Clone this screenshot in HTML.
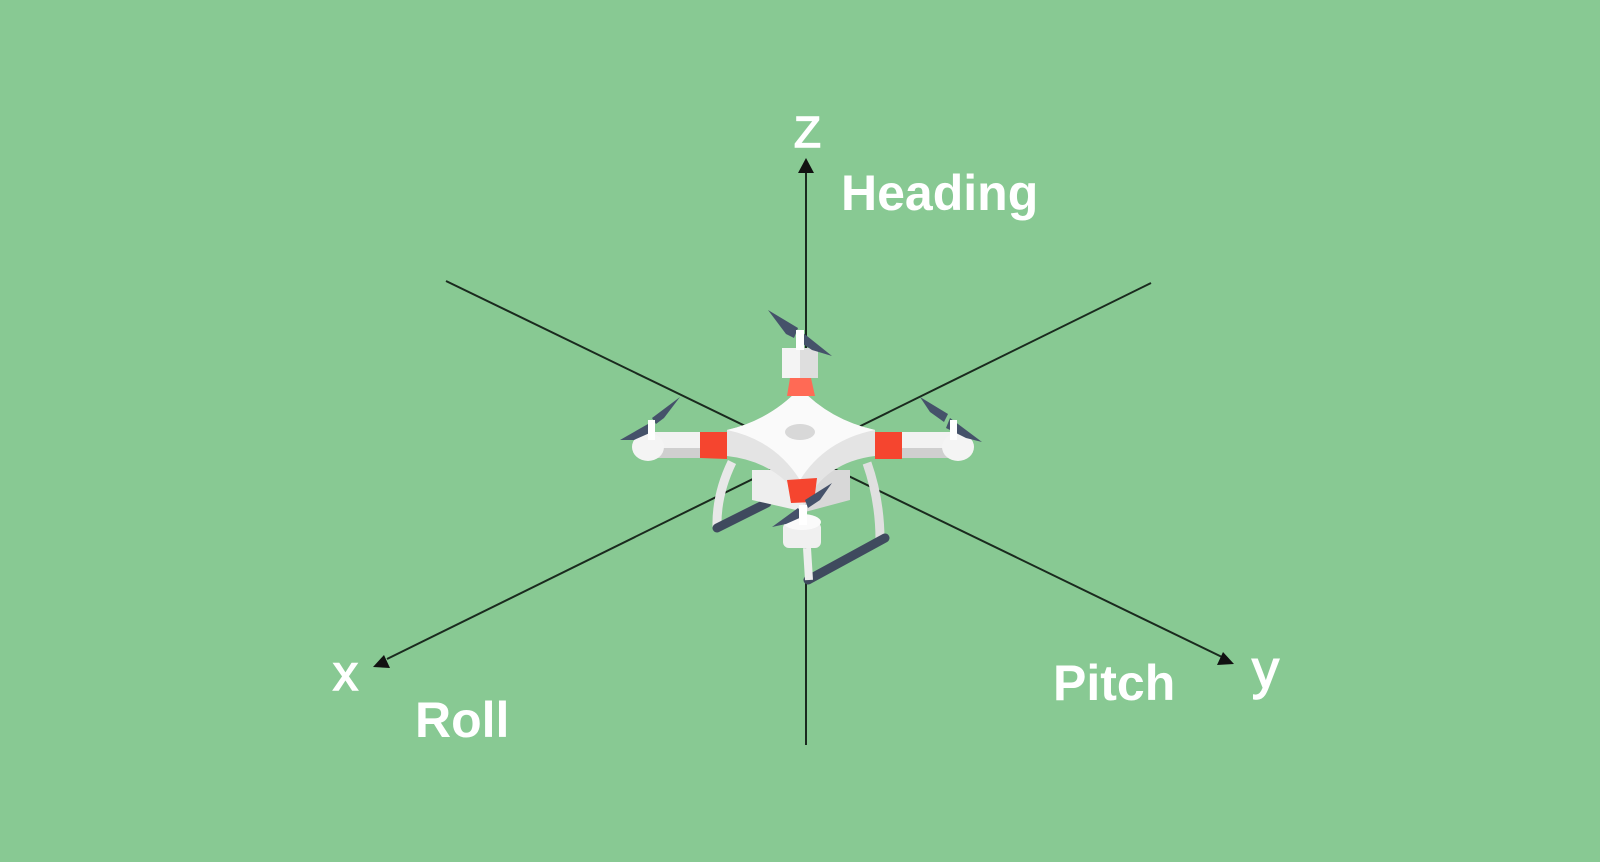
<!DOCTYPE html>
<html><head><meta charset="utf-8"><style>
html,body{margin:0;padding:0;background:#88c993;}
svg{display:block}
</style></head><body>
<svg width="1600" height="862" viewBox="0 0 1600 862" xmlns="http://www.w3.org/2000/svg">
<rect width="1600" height="862" fill="#88c993"/>
<g stroke="#1a2a1e" stroke-width="2" fill="none">
<line x1="806" y1="170" x2="806" y2="745"/>
<line x1="446" y1="281" x2="1222" y2="657"/>
<line x1="1151" y1="283" x2="387" y2="659"/>
</g>
<polygon points="806,158 798,173 814,173" fill="#111"/>
<polygon points="373,667 390,668 384,655" fill="#111"/>
<polygon points="1234,664 1217,665 1223,652" fill="#111"/>
<g font-family="Liberation Sans, sans-serif" fill="#fff">
<text x="794" y="147" font-size="44" stroke="#fff" stroke-width="1.5">Z</text>
<text x="841" y="210" font-size="50" font-weight="bold">Heading</text>
<text x="333" y="690" font-size="50" stroke="#fff" stroke-width="1.5">x</text>
<text x="415" y="737" font-size="50" font-weight="bold">Roll</text>
<text x="1053" y="700" font-size="50" font-weight="bold">Pitch</text>
<text x="1252" y="688" font-size="54" stroke="#fff" stroke-width="1.5">y</text>
</g>
<g>
<path d="M732,462 Q716,495 717,528" stroke="#e8e8e8" stroke-width="9" fill="none"/>
<path d="M867,463 Q880,500 880,540" stroke="#e0e0e0" stroke-width="9" fill="none"/>
<line x1="717" y1="528" x2="767" y2="503" stroke="#3f4a5e" stroke-width="9" stroke-linecap="round"/>
<line x1="808" y1="580" x2="885" y2="538" stroke="#3f4a5e" stroke-width="9" stroke-linecap="round"/>
<line x1="807" y1="548" x2="809" y2="580" stroke="#eee" stroke-width="8"/>
<polygon points="752,470 805,470 805,512 752,500" fill="#eeeeee"/>
<polygon points="805,470 850,470 850,500 805,512" fill="#d8d8d8"/>
<rect x="640" y="432" width="70" height="26" fill="#f2f2f2"/>
<rect x="640" y="448" width="70" height="10" fill="#cfcfcf"/>
<ellipse cx="648" cy="447" rx="16" ry="14" fill="#f4f4f4"/>
<rect x="890" y="432" width="72" height="26" fill="#f2f2f2"/>
<rect x="890" y="448" width="72" height="10" fill="#cfcfcf"/>
<ellipse cx="958" cy="447" rx="16" ry="14" fill="#f4f4f4"/>
<rect x="782" y="348" width="36" height="30" fill="#f4f4f4"/>
<rect x="800" y="348" width="18" height="30" fill="#dedede"/>
<path d="M727,430 Q770,420 800,388 Q830,420 875,430 L875,456 Q825,462 804,505 Q780,462 727,456 Z" fill="#e4e4e4"/>
<path d="M727,430 Q770,420 800,388 Q830,420 875,430 Q825,440 800,480 Q775,440 727,430 Z" fill="#fafafa"/>
<polygon points="700,432 727,432 727,459 700,458" fill="#f5452f"/>
<polygon points="875,432 902,432 902,459 875,459" fill="#f5452f"/>
<polygon points="790,378 811,378 815,396 787,396" fill="#ff6a55"/>
<polygon points="787,480 817,478 814,502 791,503" fill="#f5452f"/>
<rect x="783" y="522" width="38" height="26" rx="6" fill="#f0f0f0"/>
<ellipse cx="802" cy="522" rx="19" ry="8" fill="#fafafa"/>
<ellipse cx="800" cy="432" rx="15" ry="8" fill="#d8d8d8"/>
<g fill="#45526a">
<polygon points="768,310 798,328 794,338 786,334"/>
<polygon points="802,332 832,356 812,350 800,342"/>
<polygon points="620,440 648,424 652,432 634,440"/>
<polygon points="652,418 680,397 664,418 656,424"/>
<polygon points="920,397 948,414 944,422 930,412"/>
<polygon points="950,418 982,442 966,438 946,428"/>
<polygon points="772,527 798,508 804,516 786,524"/>
<polygon points="805,500 832,483 820,500 808,508"/>
</g>
<g fill="#fff">
<rect x="796" y="330" width="8" height="20"/>
<rect x="648" y="420" width="7" height="20"/>
<rect x="950" y="420" width="7" height="20"/>
<rect x="799" y="505" width="8" height="20"/>
</g>
</g>
</svg>
</body></html>
